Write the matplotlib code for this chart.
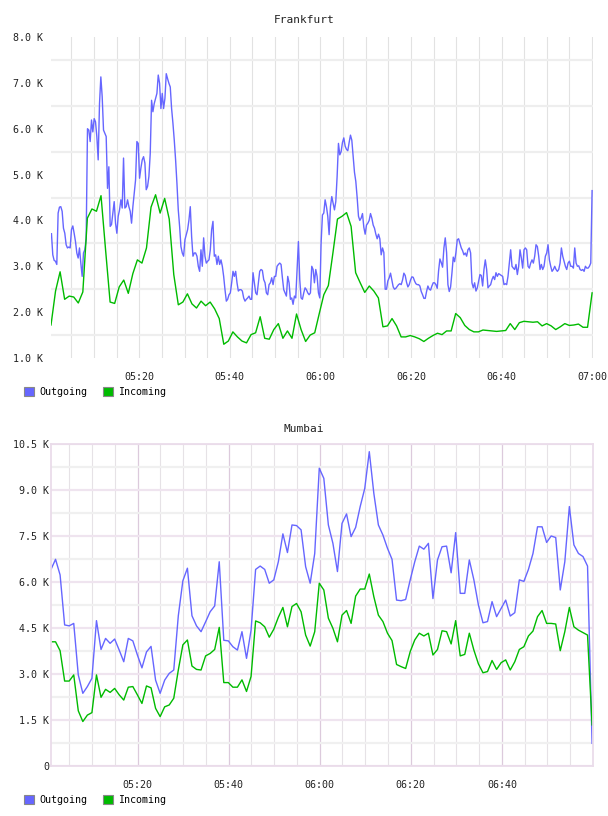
import matplotlib.pyplot as plt
import numpy as np
from matplotlib.patches import Patch
from matplotlib.ticker import FixedLocator, FuncFormatter

plt.rcParams['font.family'] = ['DejaVu Sans Mono']

# traffic in K, Frankfurt outgoing is sampled finer than the rest
fra_out = [
    3.71, 3.25, 3.13, 3.11, 3.04, 4.16, 4.29, 4.30, 4.20, 3.83,
    3.72, 3.47, 3.40, 3.42, 3.40, 3.80, 3.88, 3.72, 3.54, 3.29,
    3.18, 3.40, 3.07, 2.78, 3.29, 3.36, 3.60, 6.00, 5.97, 5.72,
    6.19, 5.93, 6.22, 6.15, 5.83, 5.32, 6.55, 7.13, 6.70, 5.97,
    5.90, 5.83, 4.70, 5.17, 3.87, 3.91, 4.16, 4.41, 3.94, 3.72,
    4.09, 4.23, 4.45, 4.27, 5.36, 4.27, 4.30, 4.45, 4.30, 4.20,
    3.94, 4.30, 4.60, 4.88, 5.72, 5.68, 4.92, 5.14, 5.32, 5.39,
    5.25, 4.67, 4.74, 4.96, 5.46, 6.62, 6.37, 6.55, 6.66, 6.77,
    7.17, 6.99, 6.44, 6.77, 6.44, 6.66, 7.20, 7.09, 6.99, 6.91,
    6.44, 6.12, 5.75, 5.32, 4.81, 4.23, 3.87, 3.43, 3.29, 3.22,
    3.58, 3.69, 3.80, 4.01, 4.30,
    3.65, 3.22, 3.29, 3.29, 3.22, 3.00, 2.89, 3.36, 3.00, 3.62,
    3.22, 3.07, 3.11, 3.14, 3.36, 3.80, 3.98, 3.22, 3.25, 3.04,
    3.22, 3.04, 3.14, 3.00, 2.78, 2.49, 2.24, 2.28, 2.38, 2.42,
    2.64, 2.89, 2.78, 2.89, 2.64, 2.46, 2.49, 2.49, 2.46, 2.31,
    2.24, 2.28, 2.31, 2.35, 2.28, 2.28, 2.86, 2.64, 2.42, 2.38,
    2.64, 2.89, 2.93, 2.91, 2.71, 2.64, 2.42, 2.38, 2.60, 2.64,
    2.75, 2.60, 2.78, 2.78, 3.00, 3.04, 3.07, 3.04, 2.75, 2.49,
    2.42, 2.35, 2.78, 2.64, 2.28, 2.31, 2.17, 2.35, 2.31, 2.93,
    3.54, 2.71, 2.31, 2.28, 2.42, 2.53, 2.49, 2.42, 2.38, 2.42,
    3.00, 2.93, 2.64, 2.93, 2.78, 2.42, 2.31, 3.51, 4.12, 4.16,
    4.45, 4.30, 4.09,
    3.69, 4.30, 4.52, 4.38, 4.23, 4.41, 4.96, 5.68, 5.43, 5.50,
    5.70, 5.80, 5.62, 5.55, 5.52, 5.70, 5.86, 5.75, 5.40, 5.05,
    4.85, 4.50, 4.09, 4.00, 4.05, 4.15, 3.85, 3.70, 3.90, 3.94,
    4.00, 4.15, 4.05, 3.90, 3.83, 3.70, 3.60, 3.70, 3.60, 3.25,
    3.40, 3.30, 2.50, 2.50, 2.68, 2.75, 2.85, 2.70, 2.55, 2.50,
    2.52, 2.56, 2.60, 2.62, 2.60, 2.70, 2.85, 2.80, 2.65, 2.55,
    2.60, 2.70, 2.77, 2.76, 2.68, 2.62, 2.60, 2.60, 2.57, 2.45,
    2.38, 2.30, 2.30, 2.45, 2.57, 2.50, 2.48, 2.57, 2.64, 2.64,
    2.60, 2.52, 2.90, 3.16, 3.08, 2.98, 3.40, 3.62, 3.30, 2.60,
    2.45, 2.55, 2.85, 3.20, 3.10, 3.30, 3.58, 3.60, 3.50, 3.40,
    3.34,
    3.25, 3.29, 3.22, 3.36, 3.40, 3.29, 2.64, 2.53, 2.64, 2.46,
    2.53, 2.67, 2.82, 2.80, 2.57, 2.93, 3.14, 2.93, 2.53, 2.57,
    2.60, 2.71, 2.78, 2.71, 2.86, 2.78, 2.84, 2.82, 2.80, 2.78,
    2.60, 2.62, 2.60, 2.78, 3.07, 3.36, 3.00, 2.96, 2.93, 3.04,
    2.82, 3.00, 3.36, 3.18, 2.96, 3.36, 3.40, 3.36, 3.00, 2.96,
    3.07, 3.14, 3.07, 3.22, 3.47, 3.43, 3.22, 2.93, 3.04, 2.93,
    3.00, 3.22, 3.29, 3.47, 3.14, 3.00, 2.89, 2.93, 3.00, 2.93,
    2.89, 2.93, 3.07, 3.40, 3.22, 3.11, 3.00, 2.93, 3.07, 3.11,
    3.00, 3.00, 2.96, 3.40, 3.07, 3.00, 3.01, 2.93, 2.91, 2.93,
    2.89, 3.00, 2.96, 2.96, 3.00, 3.07, 4.65,
]
fra_in = [
    1.72, 2.46, 2.88, 2.28, 2.35, 2.33, 2.20, 2.44, 4.05, 4.25,
    4.20, 4.54, 3.36, 2.22, 2.19, 2.55, 2.70, 2.41, 2.84, 3.14,
    3.07, 3.40, 4.29, 4.56, 4.16, 4.48, 4.03, 2.82, 2.16, 2.22,
    2.40, 2.18, 2.09, 2.24, 2.14, 2.22, 2.07, 1.86, 1.30, 1.37,
    1.57, 1.46, 1.37, 1.33, 1.51, 1.55, 1.90, 1.43, 1.41, 1.62,
    1.75, 1.43, 1.59, 1.43, 1.96, 1.62, 1.36, 1.50, 1.55, 1.97,
    2.38, 2.58, 3.29, 4.03, 4.09, 4.17, 3.87, 2.86, 2.64, 2.43,
    2.57, 2.46, 2.31, 1.68, 1.70, 1.86, 1.70, 1.46, 1.46, 1.49,
    1.46, 1.42, 1.36, 1.43, 1.49, 1.54, 1.51, 1.59, 1.59, 1.97,
    1.88, 1.71, 1.62, 1.57, 1.57, 1.61, 1.60, 1.59, 1.58, 1.59,
    1.60, 1.75, 1.62, 1.77, 1.80, 1.79, 1.78, 1.79, 1.70, 1.75,
    1.70, 1.62, 1.68, 1.75, 1.71, 1.72, 1.74, 1.67, 1.67, 2.42,
]
mum_out = [
    6.41, 6.74, 6.23, 4.60, 4.57, 4.65, 2.97, 2.37, 2.59, 2.86,
    4.74, 3.80, 4.16, 4.00, 4.14, 3.78, 3.40, 4.16, 4.08, 3.62,
    3.20, 3.72, 3.90, 2.80, 2.37, 2.80, 3.02, 3.13, 4.90, 6.04,
    6.45, 4.90, 4.57, 4.38, 4.70, 5.03, 5.22, 6.66, 4.10, 4.08,
    3.89, 3.78, 4.38, 3.51, 4.43, 6.41, 6.52, 6.41, 5.96, 6.07,
    6.66, 7.57, 6.96, 7.86, 7.84, 7.70, 6.50, 5.96, 6.93, 9.71,
    9.38, 7.86, 7.26, 6.34, 7.91, 8.22, 7.48, 7.78, 8.46, 9.05,
    10.25, 8.89, 7.86, 7.53, 7.10, 6.74, 5.41, 5.39, 5.43, 6.07,
    6.66, 7.17, 7.07, 7.26, 5.46, 6.72, 7.15, 7.17, 6.30, 7.61,
    5.63, 5.63, 6.72, 6.07, 5.25, 4.67, 4.71, 5.36, 4.87, 5.14,
    5.41, 4.89, 5.00, 6.07, 6.02, 6.41, 6.93, 7.80, 7.80, 7.29,
    7.50, 7.45, 5.74, 6.66, 8.46, 7.21, 6.93, 6.83, 6.52, 0.74,
]
mum_in = [
    4.05, 4.05, 3.76, 2.77, 2.77, 2.97, 1.80, 1.45, 1.66, 1.74,
    2.97, 2.24, 2.50, 2.40, 2.53, 2.32, 2.15, 2.57, 2.59, 2.32,
    2.04, 2.61, 2.55, 1.88, 1.61, 1.93, 1.99, 2.21, 3.13, 3.95,
    4.11, 3.26, 3.15, 3.13, 3.59, 3.67, 3.80, 4.52, 2.72, 2.72,
    2.57, 2.57, 2.81, 2.43, 2.92, 4.73, 4.67, 4.54, 4.20, 4.46,
    4.85, 5.17, 4.54, 5.20, 5.30, 5.03, 4.27, 3.91, 4.38, 5.96,
    5.74, 4.82, 4.49, 4.05, 4.92, 5.07, 4.65, 5.54, 5.77, 5.77,
    6.26, 5.52, 4.92, 4.71, 4.33, 4.09, 3.31, 3.24, 3.18, 3.73,
    4.11, 4.33, 4.24, 4.33, 3.62, 3.80, 4.41, 4.38, 3.98, 4.74,
    3.59, 3.64, 4.33, 3.78, 3.33, 3.04, 3.08, 3.44, 3.15, 3.37,
    3.46, 3.13, 3.40, 3.80, 3.89, 4.24, 4.40, 4.87, 5.07, 4.65,
    4.65, 4.63, 3.76, 4.38, 5.17, 4.54, 4.43, 4.35, 4.27, 1.34,
]

# sample times, minutes after 05:00
fra_out_span = (0.6, 120.0)
fra_in_span = (0.5, 120.0)
mum_span = (1.0, 119.8)

OUT_C = '#6666ff'
IN_C = '#00bb00'
W, H = 608, 816


def hhmm(m, pos=None):
    m = int(round(m))
    return f'{5 + m // 60:02d}:{m % 60:02d}'


fig = plt.figure(figsize=(W / 100, H / 100), dpi=100)


def add_legend(y_px):
    handles = [Patch(facecolor=OUT_C, edgecolor='#888888', lw=0.8),
               Patch(facecolor=IN_C, edgecolor='#888888', lw=0.8)]
    fig.legend(handles, ['Outgoing', 'Incoming'], loc='center left',
               bbox_to_anchor=(24 / W, 1 - y_px / H), ncol=2, frameon=False,
               fontsize=7.2, handlelength=1.0, handleheight=1.0,
               handletextpad=0.5, columnspacing=1.6, borderpad=0, borderaxespad=0)


# ---- Frankfurt ----
ax1 = fig.add_axes([51 / W, 1 - 358 / H, 542 / W, 321 / H])
t_out = np.linspace(*fra_out_span, len(fra_out))
t_in = np.linspace(*fra_in_span, len(fra_in))
ax1.plot(t_out, fra_out, color=OUT_C, lw=1.0)
ax1.plot(t_in, fra_in, color=IN_C, lw=1.0)
ax1.set_xlim(0.5, 120.2)
ax1.set_ylim(1.0, 8.0)
ax1.xaxis.set_major_locator(FixedLocator(np.arange(20, 121, 20)))
ax1.xaxis.set_minor_locator(FixedLocator(np.arange(5, 121, 5)))
ax1.xaxis.set_major_formatter(FuncFormatter(hhmm))
ax1.yaxis.set_major_locator(FixedLocator(np.arange(1, 9)))
ax1.yaxis.set_minor_locator(FixedLocator(np.arange(1.5, 8, 1.0)))
ax1.yaxis.set_major_formatter(FuncFormatter(lambda v, p: f'{v:.1f} K'))
ax1.grid(axis='x', which='both', color='#e2e2e2', lw=0.8)
ax1.grid(axis='y', which='minor', color='#eeeeee', lw=1.6)
ax1.set_axisbelow(True)
for s in ax1.spines.values():
    s.set_visible(False)
ax1.tick_params(which='both', length=0, labelsize=7.2, colors='#222222')
ax1.tick_params(axis='x', pad=10)
ax1.tick_params(axis='y', pad=6)
fig.text(0.5, 1 - 20 / H, 'Frankfurt', ha='center', va='center', fontsize=8, color='#222222')
add_legend(392)

# ---- Mumbai ----
ax2 = fig.add_axes([51 / W, 1 - 766 / H, 542 / W, 322 / H])
t_m = np.linspace(*mum_span, len(mum_out))
ax2.plot(t_m, mum_out, color=OUT_C, lw=1.0)
ax2.plot(t_m, mum_in, color=IN_C, lw=1.0)
ax2.set_xlim(1.0, 120.0)
ax2.set_ylim(0, 10.5)
ax2.xaxis.set_major_locator(FixedLocator(np.arange(20, 101, 20)))
ax2.xaxis.set_minor_locator(FixedLocator(np.arange(5, 120, 5)))
ax2.xaxis.set_major_formatter(FuncFormatter(hhmm))
ax2.yaxis.set_major_locator(FixedLocator(np.arange(0, 10.6, 1.5)))
ax2.yaxis.set_minor_locator(FixedLocator(np.arange(0.75, 10.5, 1.5)))
ax2.yaxis.set_major_formatter(FuncFormatter(lambda v, p: '0' if v == 0 else f'{v:.1f} K'))
ax2.grid(axis='x', which='major', color='#dccadc', lw=0.9)
ax2.grid(axis='x', which='minor', color='#e6e2e6', lw=0.8)
ax2.grid(axis='y', which='major', color='#efe4ef', lw=1.6)
ax2.grid(axis='y', which='minor', color='#f0f0f0', lw=1.6)
ax2.set_axisbelow(True)
for s in ax2.spines.values():
    s.set_color('#eadcea')
    s.set_linewidth(1.3)
ax2.tick_params(which='both', length=0, labelsize=7.2, colors='#222222')
ax2.tick_params(axis='x', pad=10)
ax2.tick_params(axis='y', pad=1.5)
fig.text(0.5, 1 - 429 / H, 'Mumbai', ha='center', va='center', fontsize=8, color='#222222')
add_legend(800)

fig.savefig('out.png', dpi=100)
